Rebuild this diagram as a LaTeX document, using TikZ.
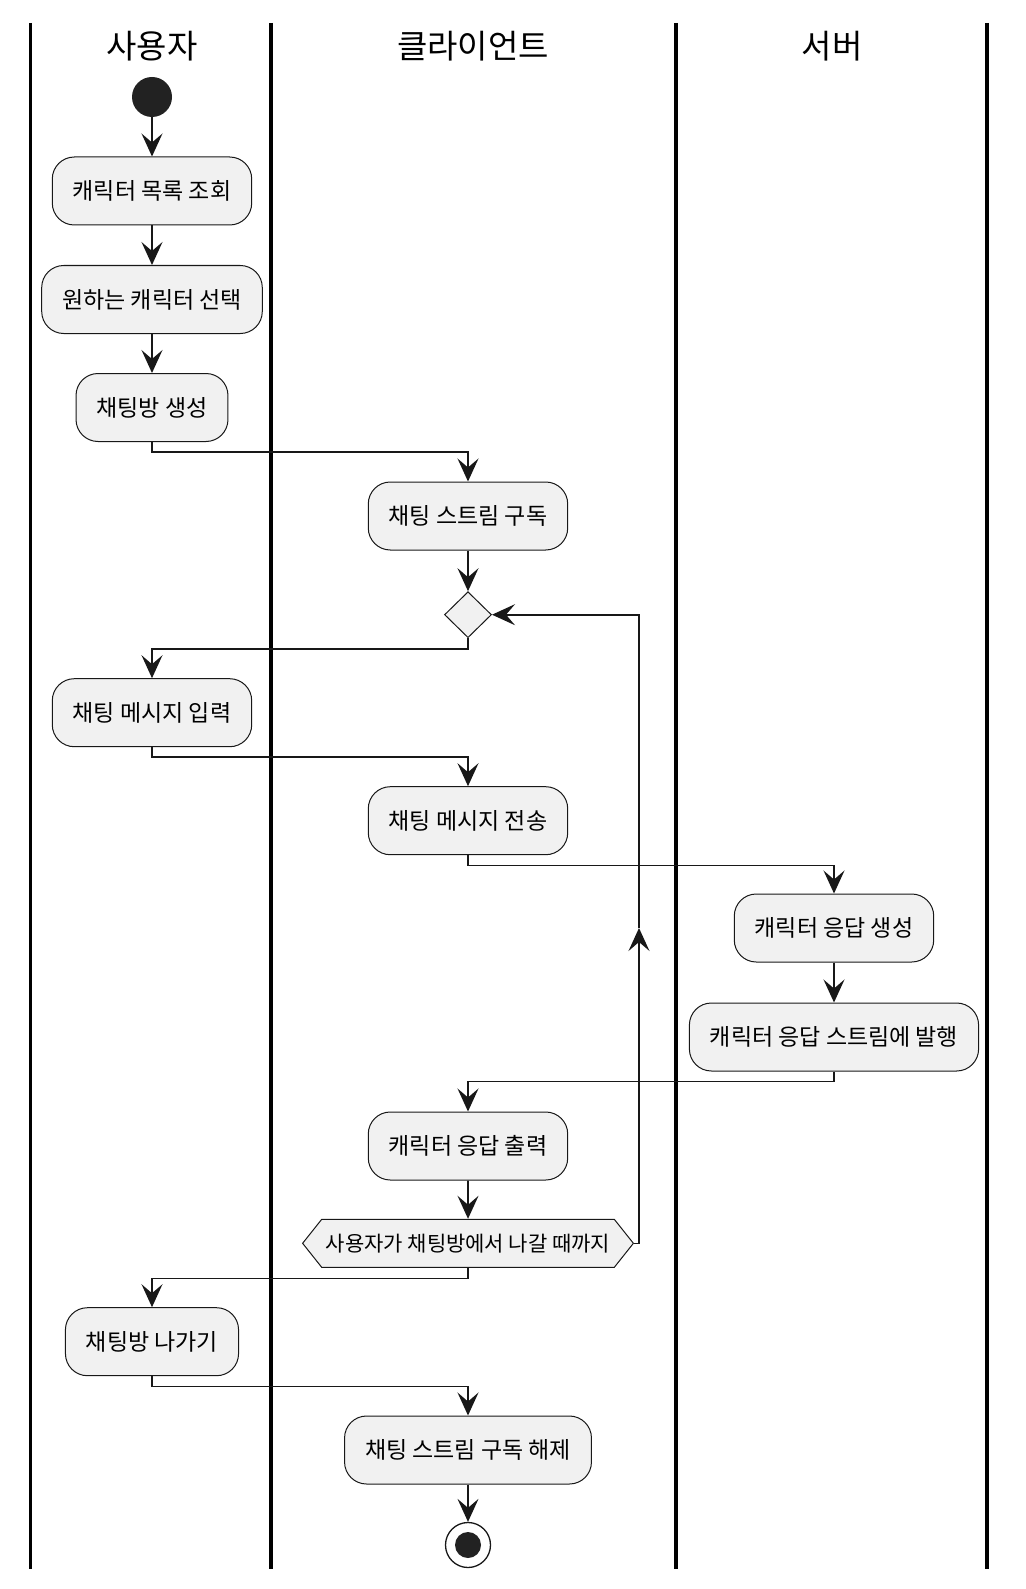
\documentclass[tikz,border=0pt]{standalone}
\usepackage{fontspec}
\setmainfont{Noto Sans CJK KR}
\usetikzlibrary{shapes.geometric, shapes.symbols, arrows.meta, positioning}
\definecolor{boxfill}{HTML}{F1F1F1}
\definecolor{inkdark}{HTML}{181818}
\definecolor{dotfill}{HTML}{222222}

\begin{document}
\begin{tikzpicture}[x=1pt, y=-1pt,
  lane/.style={draw=black, line width=3.2pt},
  lanetitle/.style={font=\fontsize{33}{38}\selectfont, inner sep=0pt},
  action/.style={draw=inkdark, fill=boxfill, rounded corners=22pt, line width=1pt,
    minimum height=68pt, inner xsep=20.5pt, font=\fontsize{23}{27}\selectfont},
  decision/.style={diamond, draw=inkdark, fill=boxfill, line width=1pt, inner sep=0pt,
    minimum width=47pt, minimum height=46pt},
  loopcheck/.style={signal, signal to=west and east, signal pointer angle=103, draw=inkdark,
    fill=boxfill, line width=1pt, minimum height=48pt, inner xsep=4pt,
    font=\fontsize{21}{24}\selectfont},
  flow/.style={draw=inkdark, line width=1.6pt, -{Stealth[length=23pt, width=21pt, inset=9pt]}}
]
  \useasboundingbox (0,0) rectangle (1025,1589);

  % swimlanes
  \draw[lane] (30.5,23) -- (30.5,1569);
  \draw[lane] (271,23) -- (271,1569);
  \draw[lane] (676,23) -- (676,1569);
  \draw[lane] (987,23) -- (987,1569);
  \node[lanetitle] (userlane) at (152,46) {사용자};
  \node[lanetitle] (clientlane) at (473,46) {클라이언트};
  \node[lanetitle] (serverlane) at (832,46) {서버};

  % nodes
  \node[circle, fill=dotfill, minimum size=40pt, inner sep=0pt] (start) at (152,97) {};
  \node[action] (listchars) at (152,191) {캐릭터 목록 조회};
  \node[action] (pickchar) at (152,299.5) {원하는 캐릭터 선택};
  \node[action] (makeroom) at (152,407.5) {채팅방 생성};
  \node[action] (subscribe) at (468,516) {채팅 스트림 구독};
  \node[decision] (merge) at (468,614.7) {};
  \node[action] (typemsg) at (152,712.7) {채팅 메시지 입력};
  \node[action] (sendmsg) at (468,820.7) {채팅 메시지 전송};
  \node[action] (genreply) at (834,928) {캐릭터 응답 생성};
  \node[action] (pubreply) at (834,1037) {캐릭터 응답 스트림에 발행};
  \node[action] (showreply) at (468,1146) {캐릭터 응답 출력};
  \node[loopcheck] (untilexit) at (468,1243.3) {사용자가 채팅방에서 나갈 때까지};
  \node[action] (leaveroom) at (152,1341.7) {채팅방 나가기};
  \node[action] (unsubscribe) at (468,1450) {채팅 스트림 구독 해제};
  \node[circle, draw=inkdark, line width=1.3pt, fill=white, minimum size=45pt, inner sep=0pt] (stop) at (468,1545) {};
  \node[circle, fill=dotfill, minimum size=26pt, inner sep=0pt] (stopdot) at (stop) {};

  % connectors
  \draw[flow] (start) -- (listchars);
  \draw[flow] (listchars) -- (pickchar);
  \draw[flow] (pickchar) -- (makeroom);
  \draw[flow] (makeroom.south) -- ++(0,10) -| (subscribe.north);
  \draw[flow] (subscribe) -- (merge);
  \draw[flow] (merge.south) -- ++(0,10.6) -| (typemsg.north);
  \draw[flow] (typemsg.south) -- ++(0,9.6) -| (sendmsg.north);
  \draw[flow] (sendmsg.south) -- ++(0,10.2) -| (genreply.north);
  \draw[flow] (genreply) -- (pubreply);
  \draw[flow] (pubreply.south) -- ++(0,10) -| (showreply.north);
  \draw[flow] (showreply) -- (untilexit);
  \coordinate (loopmid) at (639,928);
  \draw[flow] (untilexit.east) -| (loopmid);
  \draw[flow] (loopmid) |- (merge.east);
  \draw[flow] (untilexit.south) -- ++(0,10.7) -| (leaveroom.north);
  \draw[flow] (leaveroom.south) -- ++(0,10.2) -| (unsubscribe.north);
  \draw[flow] (unsubscribe) -- (stop);
\end{tikzpicture}
\end{document}
